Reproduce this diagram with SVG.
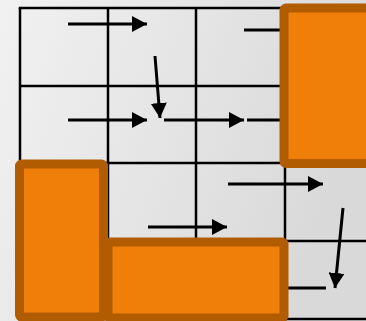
<svg xmlns="http://www.w3.org/2000/svg" width="366" height="321" viewBox="0 0 366 321">
  <defs>
    <linearGradient id="bg" x1="0" y1="0" x2="1" y2="0.3">
      <stop offset="0" stop-color="#f1f1f1"/>
      <stop offset="1" stop-color="#d9d9d9"/>
    </linearGradient>
    <marker id="ah" markerUnits="userSpaceOnUse" markerWidth="15" markerHeight="16" refX="15" refY="8" orient="auto">
      <path d="M0,0 L15,8 L0,16 z" fill="#000"/>
    </marker>
    <style>
      .grid { stroke: #000; stroke-width: 2.5; fill: none; }
      .arr { stroke: #000; stroke-width: 3; fill: none; }
      .blk { fill: #f07f0a; stroke: #b25c02; stroke-width: 9; }
    </style>
  </defs>
  <rect x="0" y="0" width="366" height="321" fill="url(#bg)"/>
  <g id="grid" class="grid">
    <line x1="20" y1="8" x2="20" y2="321"/>
    <line x1="108" y1="8" x2="108" y2="321"/>
    <line x1="196" y1="8" x2="196" y2="321"/>
    <line x1="285" y1="8" x2="285" y2="321"/>
    <line x1="18.75" y1="8" x2="366" y2="8"/>
    <line x1="20" y1="86" x2="366" y2="86"/>
    <line x1="20" y1="163" x2="366" y2="163"/>
    <line x1="20" y1="241" x2="366" y2="241"/>
    <line x1="20" y1="319" x2="366" y2="319"/>
  </g>
  <g id="connectors" class="arr">
    <line x1="68" y1="24" x2="147" y2="24" marker-end="url(#ah)"/>
    <line x1="244" y1="30" x2="284" y2="30"/>
    <line x1="155" y1="56" x2="160" y2="118" marker-end="url(#ah)"/>
    <line x1="68" y1="120" x2="147" y2="120" marker-end="url(#ah)"/>
    <line x1="164" y1="120" x2="244" y2="120" marker-end="url(#ah)"/>
    <line x1="247" y1="120" x2="284" y2="120"/>
    <line x1="228" y1="184" x2="323" y2="184" marker-end="url(#ah)"/>
    <line x1="148" y1="227" x2="227" y2="227" marker-end="url(#ah)"/>
    <line x1="343" y1="208" x2="335" y2="288" marker-end="url(#ah)"/>
    <line x1="285" y1="288" x2="326" y2="288"/>
  </g>
  <g id="block-top-right">
    <rect class="blk" x="284" y="8" width="100" height="155.5" rx="2"/>
  </g>
  <g id="block-left">
    <rect class="blk" x="19.5" y="164" width="84" height="153" rx="2"/>
  </g>
  <g id="block-bottom">
    <rect class="blk" x="108" y="242" width="176" height="76" rx="2"/>
  </g>
</svg>
